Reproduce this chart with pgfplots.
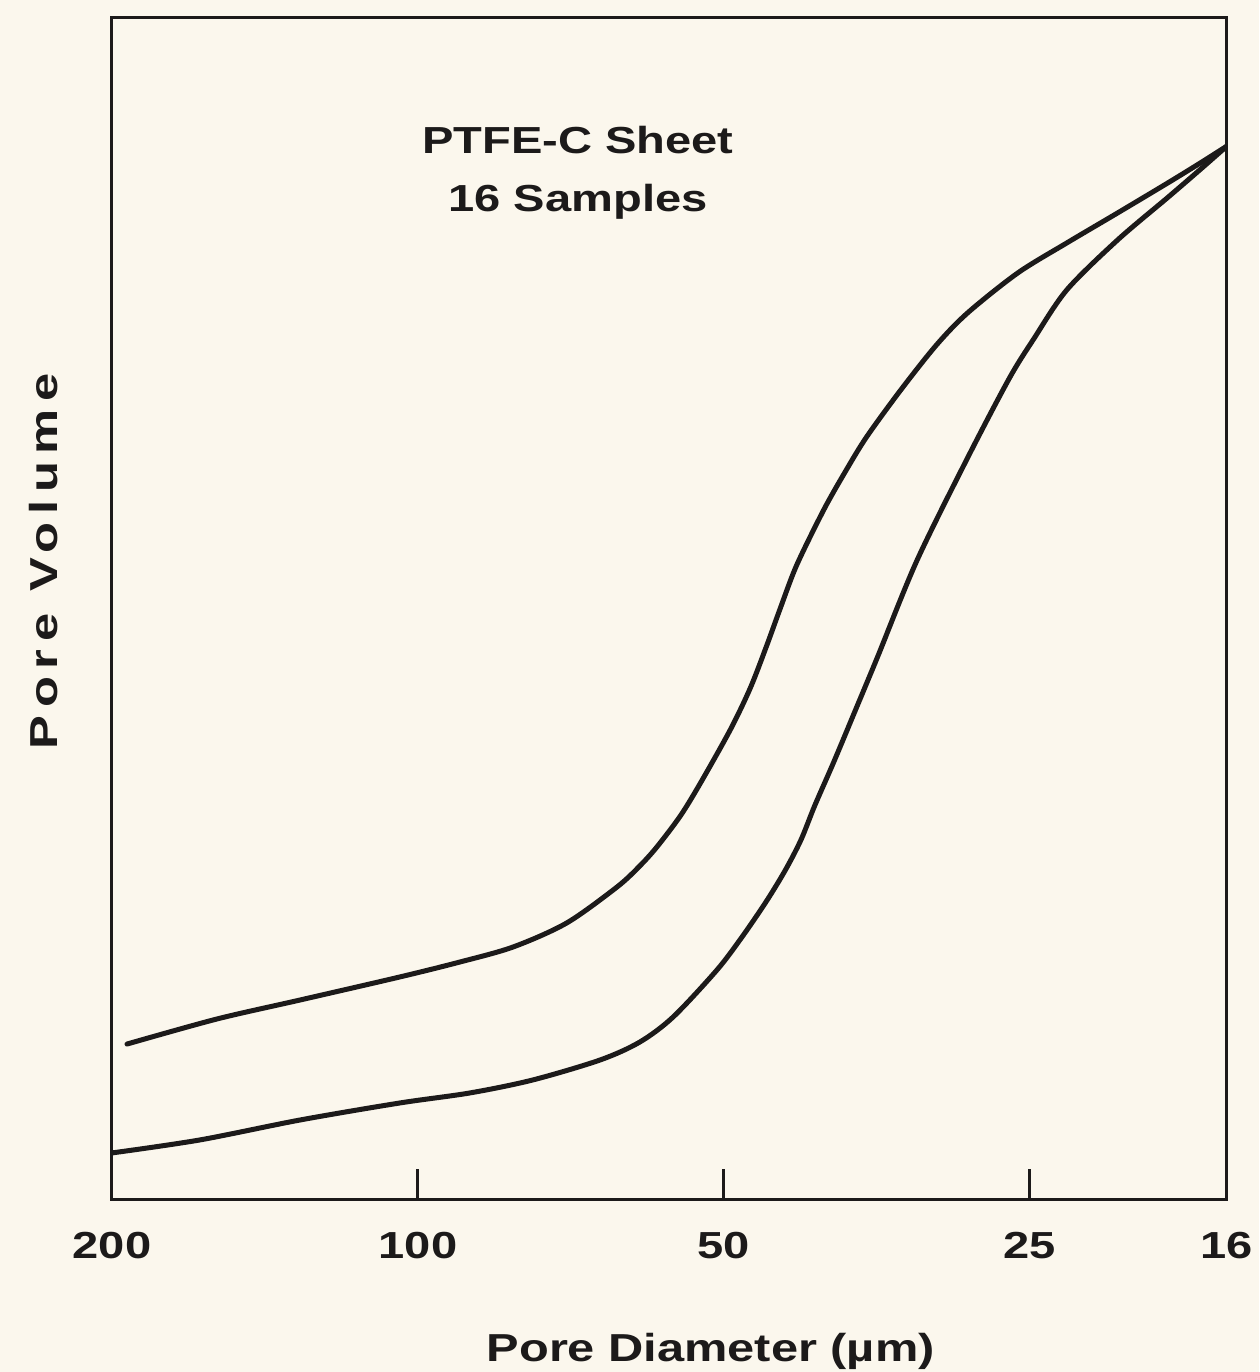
\documentclass[border=0pt]{standalone}
\usepackage{fontspec}
\setmainfont{Liberation Sans}[FakeStretch=1.25]
\newfontfamily\ylabfont{Liberation Sans}[FakeStretch=1.3,LetterSpace=20]
\usepackage{pgfplots}
\pgfplotsset{compat=1.18}
\usetikzlibrary{backgrounds}
\definecolor{paper}{RGB}{251,247,237}
\definecolor{ink}{RGB}{28,26,26}

\begin{document}
\begin{tikzpicture}
\begin{axis}[
    scale only axis,
    width=334.5pt, height=354.3pt,
    xmode=log, x dir=reverse,
    xmin=16, xmax=200, ymin=0, ymax=100,
    xtick={200,100,50,25,16},
    xticklabels={200,100,50,25,16},
    xminorticks=false,
    ytick=\empty,
    xtick pos=bottom,
    tick align=inside,
    major tick length=9pt,
    tick style={line width=0.9pt, ink},
    axis line style={line width=0.9pt, ink},
    /pgf/number format/assume math mode=true,
    xticklabel style={font=\bfseries\fontsize{11.3}{13}\selectfont, text=ink, yshift=-6.4pt},
    xlabel={Pore Diameter (µm)},
    xlabel style={at={(axis description cs:0.537,0)}, anchor=north, yshift=-36.7pt,
        font=\bfseries\fontsize{11.7}{14}\selectfont, text=ink},
    ylabel={Pore Volume},
    ylabel style={at={(axis description cs:-0.061,0.54)}, anchor=center,
        font=\ylabfont\bfseries\fontsize{11.7}{14}\selectfont, text=ink},
]
% upper curve
\addplot[ink, line width=1.5pt, line cap=round, smooth] coordinates {
    (193.3,13.12) (157.7,15.24) (130.6,16.85) (104.2,18.80) (90.9,20.07)
    (80.6,21.34) (71.4,23.37) (63.7,26.42) (60.5,28.20) (58.2,29.81)
    (55.2,32.43) (52.8,35.14) (49.3,39.71) (47.1,43.27) (45.4,46.82)
    (44.0,50.04) (42.4,53.68) (39.9,58.34) (38.0,61.56) (36.2,64.52)
    (33.5,68.50) (30.9,72.31) (28.8,75.02) (25.7,78.41) (23.0,80.95)
    (20.5,83.49) (18.3,86.03) (17.0,87.72) (16,89.16)
};
% lower curve
\addplot[ink, line width=1.5pt, line cap=round, smooth] coordinates {
    (200,3.90) (163.9,5.00) (130.6,6.69) (104.2,8.13) (88.9,8.98)
    (77.1,10.08) (66.2,11.77) (60.5,13.29) (56.1,15.41) (50.8,19.39)
    (48.0,22.18) (45.4,25.23) (43.5,27.86) (42.0,30.40) (40.7,33.32)
    (39.0,36.98) (37.1,41.45) (35.3,45.92) (32.3,54.05) (28.8,62.74)
    (26.2,69.48) (24.8,72.79) (23.0,76.97) (20.5,81.20) (18.3,84.80)
    (17.0,87.17) (16,89.16)
};
\node[align=center, text=ink, font=\bfseries\fontsize{11.3}{17.4}\selectfont]
    at (rel axis cs:0.418,0.869) {PTFE-C Sheet\\16 Samples};
\end{axis}
\pgfresetboundingbox
\path[use as bounding box] ([xshift=-33.6pt,yshift=-51.9pt]current axis.south west)
    rectangle ([xshift=9.6pt,yshift=5.4pt]current axis.north east);
\begin{scope}[on background layer]
\fill[paper] ([xshift=-33.6pt,yshift=-51.9pt]current axis.south west)
    rectangle ([xshift=9.6pt,yshift=5.4pt]current axis.north east);
\end{scope}
\end{tikzpicture}
\end{document}
